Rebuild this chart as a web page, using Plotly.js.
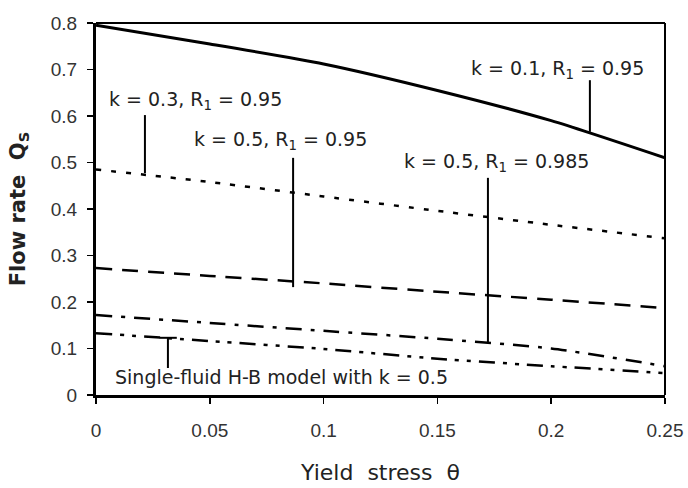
<!DOCTYPE html>
<html>
<head>
<meta charset="utf-8">
<script src="https://cdn.plot.ly/plotly-3.0.1.min.js"></script>
<style>html,body{margin:0;padding:0;background:#fff;}#chart{width:688px;height:488px;}</style>
</head>
<body>
<div id="chart"></div>
<script>
// Yield stress θ values
const theta = [0, 0.05, 0.1, 0.15, 0.2, 0.25];
// Flow rate Q_S series
const qK01R095 = [0.795, 0.755, 0.712, 0.655, 0.59, 0.51];
const qK03R095 = [0.485, 0.458, 0.427, 0.396, 0.366, 0.337];
const qK05R095 = [0.273, 0.256, 0.240, 0.222, 0.205, 0.187];
const qK05R0985 = [0.172, 0.155, 0.138, 0.121, 0.100, 0.062];
const qSingleHB = [0.133, 0.116, 0.099, 0.078, 0.062, 0.047];
// Labels
const seriesNames = ["k = 0.1, R<sub>1</sub> = 0.95", "k = 0.3, R<sub>1</sub> = 0.95", "k = 0.5, R<sub>1</sub> = 0.95", "k = 0.5, R<sub>1</sub> = 0.985", "Single-fluid H-B model with k = 0.5"];
const yTicks = [0, 0.1, 0.2, 0.3, 0.4, 0.5, 0.6, 0.7, 0.8];
const xTicks = [0, 0.05, 0.1, 0.15, 0.2, 0.25];

const series = [qK01R095, qK03R095, qK05R095, qK05R0985, qSingleHB];
const styles = [
  {width: 3, dash: "solid"},
  {width: 2.5, dash: "5px,10px"},
  {width: 2.5, dash: "16px,10px"},
  {width: 2.5, dash: "16px,9px,4px,9px"},
  {width: 2.5, dash: "16px,8px,4px,8px,4px,8px"}
];
const traces = series.map((s, i) => ({
  x: theta, y: s, type: "scatter", mode: "lines", name: seriesNames[i],
  line: {color: "#000", width: styles[i].width, dash: styles[i].dash, shape: "spline", smoothing: 0.6},
  hoverinfo: "skip"
}));

// label placement (text centre) and pointer lines
const labelPos = [
  {x: 0.2026, y: 0.699, px: 0.217, py0: 0.566, py1: 0.677},
  {x: 0.0439, y: 0.634, px: 0.0215, py0: 0.477, py1: 0.602},
  {x: 0.081, y: 0.548, px: 0.0866, py0: 0.232, py1: 0.510},
  {x: 0.176, y: 0.499, px: 0.1722, py0: 0.114, py1: 0.467},
  {x: 0.0813, y: 0.039, px: 0.0316, py0: 0.058, py1: 0.123}
];
const annFont = {family: "DejaVu Sans, sans-serif", size: 19, color: "#222"};
const annotations = labelPos.map((p, i) => ({
  x: p.x, y: p.y, xref: "x", yref: "y", text: seriesNames[i], showarrow: false,
  font: annFont, xanchor: "center", yanchor: "middle"
}));
const shapes = labelPos.map(p => ({
  type: "line", xref: "x", yref: "y", x0: p.px, x1: p.px, y0: p.py0, y1: p.py1,
  line: {color: "#000", width: 2}
}));
// T bar on single-fluid pointer
shapes.push({type: "line", xref: "x", yref: "y", x0: 0.028, x1: 0.0355, y0: 0.123, y1: 0.123, line: {color: "#000", width: 2}});
// top/right frame (thinner)
shapes.push({type: "line", xref: "paper", yref: "paper", x0: 0, x1: 1, y0: 1, y1: 1, line: {color: "#000", width: 2}});
shapes.push({type: "line", xref: "paper", yref: "paper", x0: 1, x1: 1, y0: 0, y1: 1, line: {color: "#000", width: 2}});

const tickFont = {family: "Liberation Sans, Arial, sans-serif", size: 19, color: "#333"};
const layout = {
  width: 688, height: 488,
  margin: {l: 96, r: 23, t: 23, b: 93},
  paper_bgcolor: "#fff", plot_bgcolor: "#fff",
  showlegend: false,
  xaxis: {
    range: [0, 0.25], tickvals: xTicks, ticktext: xTicks.map(String),
    showgrid: false, zeroline: false, showline: true, linecolor: "#000", linewidth: 3,
    ticks: "outside", ticklen: 6, tickwidth: 1.5, tickcolor: "#000",
    tickfont: tickFont, ticklabelstandoff: 10,
    title: {text: "Yield&nbsp; stress&nbsp; θ", font: {family: "DejaVu Sans, sans-serif", size: 22, color: "#222"}, standoff: 25}
  },
  yaxis: {
    range: [0, 0.8], tickvals: yTicks, ticktext: yTicks.map(String),
    showgrid: false, zeroline: false, showline: true, linecolor: "#000", linewidth: 3,
    ticks: "outside", ticklen: 6, tickwidth: 1.5, tickcolor: "#000",
    tickfont: tickFont, ticklabelstandoff: 6,
    title: {text: "<b>Flow rate&nbsp; Q<sub>S</sub></b>", font: {family: "DejaVu Sans, sans-serif", size: 21, color: "#222"}, standoff: 20}
  },
  annotations: annotations,
  shapes: shapes
};
Plotly.newPlot("chart", traces, layout, {staticPlot: true, displayModeBar: false});
</script>
</body>
</html>
